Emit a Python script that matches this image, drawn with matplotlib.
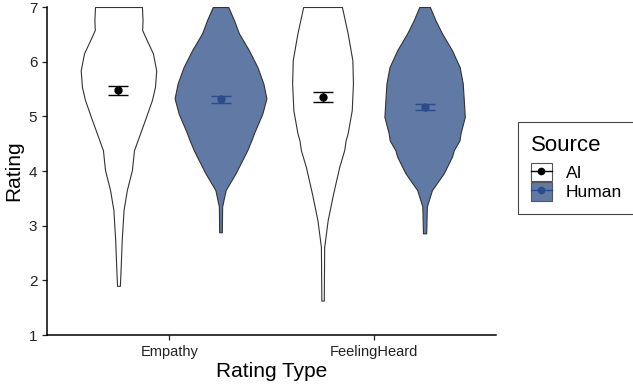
import numpy as np
import matplotlib
matplotlib.use("Agg")
import matplotlib.pyplot as plt
from matplotlib.patches import Patch
from matplotlib.lines import Line2D

plt.rcParams['font.family'] = ['Liberation Sans', 'DejaVu Sans']

rating_types = ["Empathy", "FeelingHeard"]
sources = ["AI", "Human"]

# violin outlines: rating level -> half width (x units)
ai_emp_y = [7.0, 6.76, 6.58, 6.39, 6.15, 5.84, 5.54, 5.30, 5.0, 4.69, 4.38, 4.02, 3.65, 3.29, 2.74, 2.25, 1.9]
ai_emp_w = [0.115, 0.118, 0.116, 0.139, 0.169, 0.185, 0.179, 0.164, 0.136, 0.106, 0.076, 0.066, 0.041, 0.025, 0.016, 0.011, 0.007]

hu_emp_y = [7.0, 6.76, 6.52, 6.21, 5.9, 5.6, 5.33, 5.05, 4.69, 4.56, 4.38, 4.26, 3.96, 3.65, 3.35, 2.88]
hu_emp_w = [0.038, 0.066, 0.090, 0.139, 0.181, 0.210, 0.225, 0.205, 0.164, 0.151, 0.131, 0.115, 0.074, 0.025, 0.008, 0.0065]

ai_fh_y = [7.0, 6.52, 6.03, 5.6, 5.11, 4.69, 4.56, 4.38, 4.08, 3.59, 3.10, 2.61, 2.13, 1.63]
ai_fh_w = [0.095, 0.123, 0.146, 0.149, 0.143, 0.123, 0.113, 0.106, 0.082, 0.052, 0.025, 0.008, 0.007, 0.006]

hu_fh_y = [7.0, 6.76, 6.52, 6.21, 5.9, 5.6, 5.3, 4.99, 4.69, 4.56, 4.38, 4.26, 3.96, 3.65, 3.35, 2.86]
hu_fh_w = [0.026, 0.053, 0.085, 0.134, 0.172, 0.187, 0.192, 0.197, 0.176, 0.171, 0.143, 0.134, 0.094, 0.036, 0.011, 0.008]

# means and error bar ends (Empathy, FeelingHeard)
ai_mean = [5.48, 5.36]
ai_lo = [5.39, 5.27]
ai_hi = [5.56, 5.45]
hu_mean = [5.31, 5.17]
hu_lo = [5.25, 5.11]
hu_hi = [5.37, 5.23]

fill_cols = {"AI": "white", "Human": "#6179a5"}
bar_cols = {"AI": "black", "Human": "#2d4a8a"}
offs = {"AI": -0.25, "Human": 0.25}

fig = plt.figure(figsize=(6.33, 3.89), dpi=100)
ax = fig.add_axes([0.0743, 0.1388, 0.7093, 0.8432])

violins = {
    ("AI", 0): (ai_emp_y, ai_emp_w),
    ("Human", 0): (hu_emp_y, hu_emp_w),
    ("AI", 1): (ai_fh_y, ai_fh_w),
    ("Human", 1): (hu_fh_y, hu_fh_w),
}
for (src, i), (yy, ww) in violins.items():
    c = i + 1 + offs[src]
    yy = np.array(yy)
    ww = np.array(ww)
    ax.fill_betweenx(yy, c - ww, c + ww, facecolor=fill_cols[src],
                     edgecolor="#333333", linewidth=0.8, zorder=2)

for src, m, lo, hi in [("AI", ai_mean, ai_lo, ai_hi), ("Human", hu_mean, hu_lo, hu_hi)]:
    xs = np.arange(1, 3) + offs[src]
    m = np.array(m)
    err = [m - np.array(lo), np.array(hi) - m]
    ax.errorbar(xs, m, yerr=err, fmt='o', color=bar_cols[src], ms=5,
                capsize=7, elinewidth=1, capthick=1, zorder=3)

ax.set_xlim(0.4, 2.6)
ax.set_ylim(1, 7)
ax.set_xticks([1, 2])
ax.set_xticklabels(rating_types, fontsize=10.5)
ax.set_yticks(range(1, 8))
ax.tick_params(axis='y', labelsize=11, length=3.5, width=0.9, colors='#222222', labelcolor='#222222')
ax.tick_params(axis='x', length=3.5, width=0.9, colors='#222222', labelcolor='#222222')
for s in ['top', 'right']:
    ax.spines[s].set_visible(False)
for s in ['left', 'bottom']:
    ax.spines[s].set_linewidth(1.1)
ax.set_xlabel("Rating Type", fontsize=15, labelpad=2)
ax.set_ylabel("Rating", fontsize=15, labelpad=4)

handles = []
for src in sources:
    box = Patch(facecolor=fill_cols[src], edgecolor="#555555", linewidth=0.8)
    ln = Line2D([], [], color=bar_cols[src], marker='o', ms=4.5, lw=1)
    handles.append((box, ln))
leg = fig.legend(handles, sources, title="Source", loc='upper left',
                 bbox_to_anchor=(0.818, 0.686), borderaxespad=0,
                 fontsize=12.5, title_fontsize=16,
                 fancybox=False, edgecolor="#444444", handlelength=1.2,
                 handleheight=1.25, handletextpad=0.8, labelspacing=0.05,
                 borderpad=0.75, framealpha=1)
leg.get_frame().set_linewidth(0.8)
leg._legend_box.align = "left"
leg._legend_box.sep = 5

fig.savefig("out.png", dpi=100)
